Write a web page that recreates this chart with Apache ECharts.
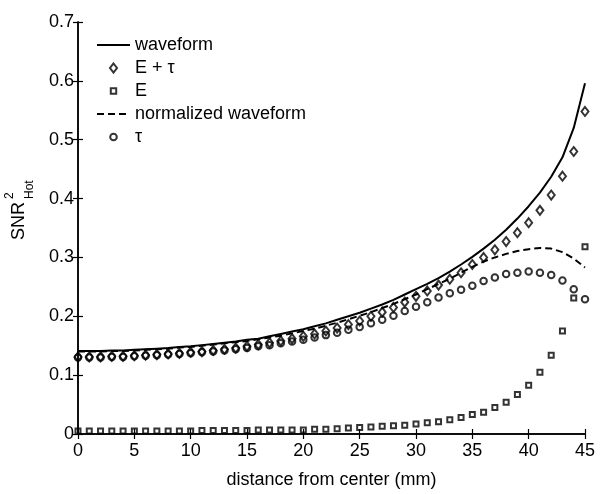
<!DOCTYPE html>
<html>
<head>
<meta charset="utf-8">
<script src="https://cdn.jsdelivr.net/npm/echarts@6/dist/echarts.min.js"></script>
<style>html,body{margin:0;padding:0;background:#fff}#c{width:600px;height:494px}</style>
</head>
<body>
<div id="c"></div>
<script>
const distance = [0,1,2,3,4,5,6,7,8,9,10,11,12,13,14,15,16,17,18,19,20,21,22,23,24,25,26,27,28,29,30,31,32,33,34,35,36,37,38,39,40,41,42,43,44,45];
const waveform = [0.141,0.141,0.141,0.142,0.142,0.143,0.144,0.145,0.146,0.148,0.149,0.151,0.153,0.155,0.157,0.160,0.162,0.166,0.170,0.174,0.178,0.183,0.188,0.194,0.200,0.206,0.213,0.220,0.228,0.237,0.246,0.255,0.265,0.276,0.288,0.301,0.315,0.330,0.347,0.366,0.387,0.410,0.437,0.470,0.520,0.596];
const normWaveform = [0.140,0.140,0.140,0.141,0.141,0.142,0.143,0.144,0.145,0.147,0.148,0.150,0.152,0.154,0.156,0.158,0.161,0.164,0.167,0.171,0.175,0.179,0.184,0.189,0.195,0.201,0.207,0.214,0.221,0.229,0.237,0.246,0.255,0.264,0.274,0.284,0.293,0.300,0.306,0.311,0.314,0.316,0.315,0.309,0.298,0.283];
const eTau = [0.131,0.131,0.131,0.132,0.132,0.133,0.134,0.135,0.136,0.137,0.139,0.140,0.142,0.144,0.146,0.149,0.152,0.155,0.158,0.162,0.166,0.170,0.175,0.180,0.186,0.192,0.200,0.207,0.215,0.224,0.234,0.243,0.253,0.263,0.274,0.288,0.300,0.313,0.327,0.342,0.359,0.380,0.406,0.438,0.480,0.548];
const eOnly = [0.005,0.005,0.005,0.005,0.005,0.005,0.005,0.005,0.005,0.005,0.005,0.006,0.006,0.006,0.006,0.006,0.007,0.007,0.007,0.007,0.007,0.008,0.008,0.009,0.010,0.011,0.012,0.013,0.014,0.015,0.017,0.019,0.021,0.024,0.028,0.033,0.037,0.045,0.054,0.067,0.083,0.105,0.134,0.175,0.231,0.318];
const tau = [0.130,0.130,0.130,0.131,0.131,0.132,0.133,0.134,0.135,0.136,0.137,0.139,0.140,0.142,0.144,0.146,0.149,0.151,0.154,0.157,0.160,0.164,0.168,0.172,0.177,0.182,0.188,0.194,0.201,0.209,0.216,0.224,0.232,0.239,0.245,0.252,0.260,0.266,0.272,0.274,0.276,0.274,0.270,0.261,0.246,0.229];
const xTicks = [0,5,10,15,20,25,30,35,40,45];
const yTicks = [0,0.1,0.2,0.3,0.4,0.5,0.6,0.7];
const legendNames = ['waveform', 'E + τ', 'E', 'normalized waveform', 'τ'];

const FONT = "'Liberation Sans', Arial, Helvetica, sans-serif";
const pair = arr => distance.map((d, i) => [d, arr[i]]);
const axisCommon = {
  axisLine: {show: true, lineStyle: {color: '#000', width: 1.5}},
  axisTick: {show: true, inside: true, length: 5, lineStyle: {color: '#000', width: 1.2}},
  splitLine: {show: false}
};
const hollow = {color: 'rgba(0,0,0,0)', borderColor: '#000', borderWidth: 2};
const noDot = {color: 'rgba(0,0,0,0)', borderWidth: 0, opacity: 0};
// legend icons: a 33x10 frame (set by the leading moveTo points) with the marker centred in it
const ICON_DIAMOND = 'path://M0,0M33,10M16.5,0.5L20,5L16.5,9.5L13,5Z';
const ICON_SQUARE = 'path://M0,0M33,10M13.8,2.3L19.2,2.3L19.2,7.7L13.8,7.7Z';
const ICON_CIRCLE = 'path://M0,0M33,10M13.2,5A3.3,3.3,0,1,1,19.8,5A3.3,3.3,0,1,1,13.2,5Z';

const chart = echarts.init(document.getElementById('c'), null, {renderer: 'canvas'});
chart.setOption({
  animation: false,
  backgroundColor: '#fff',
  textStyle: {fontFamily: FONT},
  grid: {left: 78, right: 15, top: 22, bottom: 60},
  legend: {
    orient: 'vertical', left: 91, top: 31,
    itemWidth: 33, itemHeight: 10, itemGap: 5,
    textStyle: {fontFamily: FONT, fontSize: 18, color: '#000', lineHeight: 18},
    data: [
      {name: legendNames[0], itemStyle: noDot},
      {name: legendNames[1], icon: ICON_DIAMOND},
      {name: legendNames[2], icon: ICON_SQUARE},
      {name: legendNames[3], itemStyle: noDot},
      {name: legendNames[4], icon: ICON_CIRCLE}
    ]
  },
  xAxis: [
    Object.assign({
      type: 'value', min: 0, max: 45, interval: 5, position: 'bottom',
      name: 'distance from center (mm)', nameLocation: 'middle', nameGap: 37,
      nameTextStyle: {fontFamily: FONT, fontSize: 18, color: '#000'},
      axisLabel: {fontFamily: FONT, fontSize: 18, color: '#000', margin: 8}
    }, axisCommon),
    Object.assign({
      type: 'value', min: 0, max: 45, interval: 5, position: 'top',
      axisLabel: {show: false}
    }, axisCommon)
  ],
  yAxis: [
    Object.assign({
      type: 'value', min: 0, max: 0.7, interval: 0.1, position: 'left',
      axisLabel: {fontFamily: FONT, fontSize: 18, color: '#000', margin: 4,
        formatter: v => String(+v.toFixed(1))}
    }, axisCommon),
    Object.assign({
      type: 'value', min: 0, max: 0.7, interval: 0.1, position: 'right',
      axisLabel: {show: false}
    }, axisCommon)
  ],
  graphic: [
    {type: 'text', x: 19, y: 240, rotation: Math.PI / 2,
      style: {text: 'SNR', font: '18px ' + FONT, fill: '#000', align: 'left', verticalAlign: 'middle'}},
    {type: 'text', x: 10, y: 199, rotation: Math.PI / 2,
      style: {text: '2', font: '12px ' + FONT, fill: '#000', align: 'left', verticalAlign: 'middle'}},
    {type: 'text', x: 30, y: 199, rotation: Math.PI / 2,
      style: {text: 'Hot', font: '12px ' + FONT, fill: '#000', align: 'left', verticalAlign: 'middle'}}
  ],
  series: [
    {name: legendNames[0], type: 'line', data: pair(waveform), symbol: 'none', showSymbol: false,
      lineStyle: {color: '#000', width: 2}, itemStyle: {color: '#000'}, z: 3},
    {name: legendNames[1], type: 'scatter', data: pair(eTau), symbol: 'diamond', symbolSize: [7, 9],
      symbolKeepAspect: true, itemStyle: hollow, z: 2},
    {name: legendNames[2], type: 'scatter', data: pair(eOnly), symbol: 'rect', symbolSize: 5,
      symbolKeepAspect: true, itemStyle: hollow, z: 2},
    {name: legendNames[3], type: 'line', data: pair(normWaveform), symbol: 'none', showSymbol: false,
      lineStyle: {color: '#000', width: 2, type: [7, 4]}, itemStyle: {color: '#000'}, z: 3},
    {name: legendNames[4], type: 'scatter', data: pair(tau), symbol: 'circle', symbolSize: 6.5,
      symbolKeepAspect: true, itemStyle: hollow, z: 2}
  ]
});
</script>
</body>
</html>
